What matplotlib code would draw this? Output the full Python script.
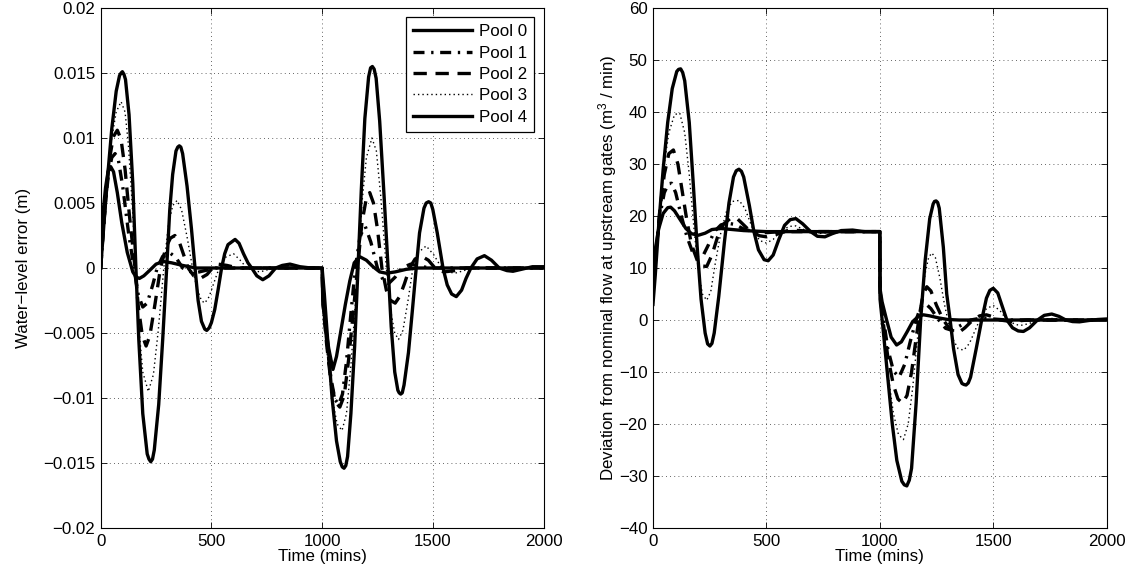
import matplotlib
matplotlib.use("Agg")
import matplotlib.pyplot as plt
from matplotlib.ticker import FuncFormatter

plt.rcParams['font.family'] = ['Liberation Sans', 'DejaVu Sans']
plt.rcParams['mathtext.default'] = 'regular'
plt.rcParams['font.size'] = 12.2

names = ["Pool 0", "Pool 1", "Pool 2", "Pool 3", "Pool 4"]

# ---- left panel: water-level error (m) ----
t_lev0 = [0, 5, 12, 22, 33, 45, 58, 75, 95, 120, 145, 160, 175, 195, 220, 250, 283, 320, 370, 430, 1000,
          1003, 1015, 1030, 1049, 1065, 1085, 1105, 1125, 1145, 1170, 1200, 1230, 1260, 1290, 1330, 1380, 1430, 2000]
lev0 = [0, 0.0025, 0.0045, 0.0062, 0.0074, 0.0078, 0.0074, 0.0058, 0.0035, 0.0012, -0.0003, -0.0007, -0.0008,
        -0.0006, -0.0002, 0.0003, 0.0005, 0.0004, 0.0002, 0.0, 0.0,
        -0.0025, -0.0045, -0.0062, -0.0078, -0.0068, -0.0048, -0.0028, -0.0010, 0.0004, 0.00087, 0.0006, 0.0001,
        -0.0003, -0.0004, -0.0003, -0.0001, 0.0, 0.0]

t_lev1 = [0, 8, 20, 35, 50, 65, 80, 100, 125, 150, 170, 190, 210, 235, 255, 280, 310, 340, 370, 420, 470, 520, 1000,
          1004, 1020, 1040, 1058, 1075, 1092, 1110, 1130, 1150, 1172, 1195, 1220, 1250, 1275, 1300, 1330, 1360, 1400,
          1450, 1500, 2000]
lev1 = [0, 0.002, 0.0048, 0.0072, 0.0085, 0.0088, 0.0083, 0.0062, 0.0028, 0.0, -0.0021, -0.0030, -0.0027, -0.0013,
        0.0, 0.0009, 0.0012, 0.0008, 0.0, -0.0004, -0.0002, 0.0, 0.0,
        -0.0025, -0.0055, -0.0085, -0.0101, -0.0105, -0.0097, -0.0072, -0.0035, 0.0, 0.0025, 0.0032, 0.0020, 0.0,
        -0.0009, -0.0012, -0.0007, 0.0, 0.0003, 0.0001, 0.0, 0.0]

t_lev2 = [0, 10, 25, 40, 57, 75, 92, 110, 130, 155, 170, 188, 205, 222, 245, 270, 295, 315, 335, 355, 375, 395, 420,
          450, 480, 505, 530, 570, 620, 1000,
          1004, 1020, 1040, 1060, 1080, 1100, 1120, 1140, 1160, 1180, 1198, 1215, 1232, 1250, 1270, 1290, 1310, 1330,
          1350, 1372, 1395, 1420, 1450, 1480, 1510, 1550, 1600, 1650, 2000]
lev2 = [0, 0.0025, 0.0058, 0.0084, 0.0101, 0.0106, 0.0099, 0.0076, 0.0040, 0.0, -0.0030, -0.0052, -0.0060, -0.0052,
        -0.0028, 0.0, 0.0016, 0.0023, 0.0025, 0.0020, 0.0010, 0.0, -0.0006, -0.0008, -0.0005, 0.0, 0.0003, 0.0002,
        0.0, 0.0,
        -0.0028, -0.0058, -0.0088, -0.0103, -0.0107, -0.0098, -0.0070, -0.0035, 0.0, 0.0035, 0.0052, 0.0058, 0.0050,
        0.0030, 0.0, -0.0017, -0.0025, -0.0027, -0.0022, -0.0012, 0.0, 0.0007, 0.0009, 0.0006, 0.0, -0.0003, -0.0002,
        0.0, 0.0]

t_lev3 = [0, 12, 30, 50, 70, 92, 110, 125, 142, 158, 172, 190, 215, 238, 260, 285, 305, 325, 345, 365, 390, 415, 435,
          455, 470, 490, 510, 535, 560, 600, 630, 660, 690, 720, 760, 800, 1000,
          1004, 1022, 1045, 1068, 1090, 1110, 1130, 1147, 1162, 1180, 1200, 1225, 1245, 1265, 1290, 1310, 1328, 1345,
          1365, 1388, 1410, 1435, 1470, 1505, 1540, 1570, 1600, 1640, 1680, 2000]
lev3 = [0, 0.0030, 0.0068, 0.0100, 0.0120, 0.0128, 0.0120, 0.0095, 0.0050, 0.0, -0.0045, -0.0080, -0.0095, -0.0082,
        -0.0048, 0.0, 0.0032, 0.0048, 0.0052, 0.0045, 0.0024, 0.0, -0.0016, -0.0025, -0.0027, -0.0022, -0.0012, 0.0,
        0.0008, 0.0011, 0.0006, 0.0, -0.0002, -0.0003, -0.0001, 0.0, 0.0,
        -0.0030, -0.0065, -0.0100, -0.0120, -0.0125, -0.0112, -0.0075, -0.0035, 0.0, 0.0050, 0.0085, 0.0100, 0.0090,
        0.0055, 0.0, -0.0033, -0.0050, -0.0055, -0.0048, -0.0025, 0.0, 0.0012, 0.0017, 0.0010, 0.0, -0.0003, -0.0004,
        -0.0002, 0.0, 0.0]

t_lev4 = [0, 15, 30, 50, 70, 85, 92, 98, 105, 112, 128, 145, 159, 172, 190, 210, 218, 226, 234, 242, 262, 280, 298,
          312, 325, 340, 348, 355, 362, 370, 390, 410, 426, 440, 455, 470, 479, 490, 500, 515, 530, 546, 560, 575, 607,
          625, 645, 665, 682, 705, 732, 760, 790, 820, 855, 900, 950, 1000,
          1010, 1025, 1045, 1065, 1082, 1091, 1099, 1107, 1115, 1130, 1147, 1162, 1177, 1193, 1210, 1219, 1227, 1235,
          1244, 1260, 1280, 1298, 1312, 1328, 1342, 1348, 1355, 1362, 1370, 1390, 1408, 1425, 1440, 1460, 1470, 1481,
          1491, 1500, 1520, 1546, 1565, 1585, 1606, 1630, 1650, 1672, 1700, 1733, 1765, 1800, 1835, 1862, 1900, 1950,
          2000]
lev4 = [0, 0.0035, 0.0068, 0.0107, 0.0136, 0.0148, 0.0150, 0.0151, 0.0149, 0.0145, 0.0118, 0.0065, 0.0, -0.0055,
        -0.0112, -0.0143, -0.0147, -0.0149, -0.0147, -0.0140, -0.0105, -0.0055, 0.0,
        0.0045, 0.0072, 0.0090, 0.0093, 0.0094, 0.0093, 0.0088, 0.0063, 0.0030, 0.0, -0.0025, -0.0041, -0.0047,
        -0.0048, -0.0046, -0.0042, -0.0032, -0.0017, 0.0, 0.0011, 0.0018, 0.0022,
        0.0019, 0.0011, 0.0004, 0.0, -0.0006, -0.0009, -0.0006, 0.0, 0.0002, 0.0003, 0.0001, 0.0, 0.0,
        -0.0020, -0.0055, -0.0100, -0.0133, -0.0149, -0.0153, -0.0154, -0.0152, -0.0145, -0.0112, -0.0060, 0.0,
        0.0060, 0.0115, 0.0147, 0.0154, 0.0155, 0.0153,
        0.0146, 0.0113, 0.0055, 0.0, -0.0045, -0.0080, -0.0094, -0.0096, -0.0097, -0.0096, -0.0090, -0.0065, -0.0032,
        0.0, 0.0027, 0.0046, 0.0050, 0.0051,
        0.0050, 0.0045, 0.0027, 0.0, -0.0013, -0.0020, -0.0022, -0.0017, -0.0008, 0.0, 0.0007, 0.00095, 0.0006, 0.0,
        -0.0002, -0.00025, -0.0001, 0.0001,
        0.0001]

# ---- right panel: flow deviation (m^3/min) ----
t_flow0 = [0, 10, 25, 45, 65, 78, 95, 120, 145, 170, 200, 230, 260, 300, 350, 400, 500, 1000,
           1001, 1010, 1030, 1050, 1074, 1095, 1120, 1145, 1170, 1192, 1220, 1260, 1300, 1350, 2000]
flow0 = [10.0, 13.5, 17.5, 20.5, 21.6, 21.7, 21.0, 19.3, 17.6, 16.6, 16.3, 16.7, 17.4, 17.6, 17.4, 17.2, 17.0, 17.0,
         6.0, 3.5, 0.0, -3.3, -4.8, -4.2, -2.3, -0.3, 0.7, 1.0, 0.8, 0.4, 0.1, 0.0, 0.0]

t_flow1 = [0, 12, 30, 50, 68, 82, 100, 125, 150, 175, 200, 220, 245, 270, 300, 330, 360, 400, 450, 500, 560, 1000,
           1001, 1015, 1035, 1060, 1085, 1110, 1135, 1160, 1180, 1200, 1225, 1260, 1290, 1320, 1350, 1400, 1450, 1500,
           1560, 2000]
flow1 = [8.0, 13.0, 20.0, 24.5, 26.2, 26.3, 24.5, 20.0, 16.0, 13.0, 12.0, 12.3, 14.5, 17.0, 18.3, 18.6, 18.4, 17.5,
         16.9, 16.8, 17.0, 17.0,
         5.5, 0.5, -5.5, -9.8, -11.0, -8.5, -4.0, 0.0, 2.5, 3.2, 2.2, 0.0, -1.6, -2.0, -1.2, 0.0, 0.4, 0.2, 0.0, 0.0]

t_flow2 = [0, 12, 30, 50, 70, 90, 110, 130, 150, 170, 195, 215, 237, 260, 285, 310, 340, 369, 395, 430, 470, 500, 540,
           600, 650, 700, 1000,
           1001, 1015, 1035, 1060, 1080, 1100, 1120, 1140, 1160, 1175, 1190, 1207, 1225, 1250, 1280, 1310, 1345, 1375,
           1410, 1440, 1470, 1500, 1530, 1580, 1650, 2000]
flow2 = [6.0, 12.0, 21.0, 28.0, 32.0, 32.7, 30.0, 24.5, 19.0, 14.5, 11.5, 10.4, 10.3, 12.5, 16.0, 18.4, 19.5, 19.6,
         18.5, 17.0, 16.2, 16.0, 16.4, 17.3, 17.2, 17.0, 17.0,
         5.0, -0.5, -7.0, -12.5, -15.2, -16.0, -14.5, -10.0, -3.5, 1.0, 4.8, 6.4, 5.6, 2.8, 0.0, -1.8, -2.5, -1.5,
         0.0, 0.8, 1.0, 0.6, 0.0, -0.3, 0.0, 0.0]

t_flow3 = [0, 12, 30, 50, 70, 95, 118, 140, 160, 180, 200, 218, 237, 255, 275, 300, 325, 350, 380, 405, 440, 470, 500,
           530, 560, 600, 630, 670, 720, 770, 850, 1000,
           1001, 1015, 1035, 1060, 1082, 1104, 1125, 1145, 1165, 1180, 1200, 1215, 1229, 1245, 1265, 1285, 1300, 1320,
           1345, 1370, 1395, 1420, 1440, 1470, 1500, 1530, 1560, 1600, 1630, 1670, 1700, 1760, 1850, 2000]
flow3 = [5.0, 11.0, 21.0, 30.0, 36.0, 39.5, 39.8, 36.0, 28.0, 18.0, 9.5, 5.0, 3.8, 5.5, 11.0, 17.0, 21.0, 22.8, 23.0,
         21.5, 17.5, 15.3, 14.8, 15.5, 17.0, 18.0, 18.1, 17.3, 16.6, 16.8, 17.1, 17.0,
         4.5, -2.0, -10.0, -18.0, -22.0, -23.0, -20.0, -13.0, -4.0, 2.5, 9.0, 12.0, 12.9, 12.0, 8.0, 3.0, 0.0, -3.5,
         -5.5, -5.8, -4.5, -2.0, 0.0, 2.2, 2.8, 1.8, 0.0, -0.9, -1.0, -0.5, 0.0, 0.3, 0.0, 0.0]

t_flow4 = [0, 10, 25, 45, 65, 85, 105, 113, 122, 131, 140, 160, 178, 195, 212, 230, 241, 251, 260, 270, 290, 315, 335,
           355, 367, 379, 390, 400, 425, 445, 465, 490, 508, 530, 555, 580, 605, 630, 660, 695, 725, 758, 790, 830,
           880, 930, 1000,
           1001, 1015, 1035, 1055, 1075, 1097, 1108, 1119, 1130, 1140, 1160, 1180, 1200, 1220, 1235, 1241, 1248, 1255,
           1262, 1280, 1295, 1310, 1325, 1345, 1362, 1371, 1380, 1390, 1400, 1425, 1449, 1470, 1485, 1500, 1520, 1540,
           1560, 1585, 1610, 1633, 1660, 1695, 1725, 1758, 1790, 1820, 1850, 1880, 1920, 1960, 2000]
flow4 = [3.0, 8.5, 18.0, 29.0, 38.0, 44.5, 47.8, 48.2, 48.3, 47.6, 46.0, 38.0, 26.0, 14.0, 4.0, -2.5, -4.6, -5.0,
         -4.5, -2.5, 4.5, 15.0, 22.5, 27.5, 28.7, 29.0, 28.6, 27.5, 22.0, 17.0, 13.5, 11.6, 11.4, 12.5, 15.5, 18.2,
         19.3, 19.5, 18.5, 17.0, 16.1, 16.0, 16.6, 17.2, 17.3, 17.0, 17.0,
         4.0, -2.0, -11.0, -20.0, -27.0, -31.0, -31.7, -31.9, -30.8, -28.5, -16.0, 0.0, 11.5, 19.5, 22.3, 22.8, 22.9,
         22.6, 21.5, 14.0, 5.0, 0.0, -5.5, -10.5, -12.2, -12.4, -12.5, -12.1, -11.0, -5.5, 0.0, 4.2, 5.7, 6.1, 5.2,
         2.6, 0.0, -1.5, -2.1, -2.2, -1.5, 0.0, 0.9, 1.15, 0.7, 0.0, -0.3, -0.35, -0.1, 0.1, 0.2]

lev_t = [t_lev0, t_lev1, t_lev2, t_lev3, t_lev4]
lev_y = [lev0, lev1, lev2, lev3, lev4]
flow_t = [t_flow0, t_flow1, t_flow2, t_flow3, t_flow4]
flow_y = [flow0, flow1, flow2, flow3, flow4]

styles = [
    dict(linestyle='-', linewidth=2.4),
    dict(linestyle=(0, (3.3, 2.0, 0.7, 2.0)), linewidth=2.4),
    dict(linestyle=(0, (4.0, 2.6)), linewidth=2.4),
    dict(linestyle=(0, (1.0, 2.2)), linewidth=1.0),
    dict(linestyle='-', linewidth=2.4),
]

def fmt(v, pos):
    s = "%g" % v
    return s.replace("-", "\u2212")

fig = plt.figure(figsize=(11.34, 5.85), dpi=100)
ax1 = fig.add_axes([0.0888, 0.0974, 0.3905, 0.8889])
ax2 = fig.add_axes([0.5758, 0.0974, 0.4001, 0.8889])

for i in range(5):
    ax1.plot(lev_t[i], lev_y[i], color='black', label=names[i], solid_joinstyle='round',
             dash_joinstyle='round', **styles[i])
    ax2.plot(flow_t[i], flow_y[i], color='black', label=names[i], solid_joinstyle='round',
             dash_joinstyle='round', **styles[i])

ax1.set_xlim(0, 2000)
ax1.set_ylim(-0.02, 0.02)
ax1.set_yticks([-0.02, -0.015, -0.01, -0.005, 0, 0.005, 0.01, 0.015, 0.02])
ax1.yaxis.set_major_formatter(FuncFormatter(fmt))
ax1.set_ylabel("Water\u2212level error (m)", labelpad=9)

ax2.set_xlim(0, 2000)
ax2.set_ylim(-40, 60)
ax2.set_yticks(range(-40, 61, 10))
ax2.yaxis.set_major_formatter(FuncFormatter(fmt))
ax2.set_ylabel("Deviation from nominal flow at upstream gates (m$^3$ / min)", labelpad=0)

for ax in (ax1, ax2):
    ax.set_xticks([0, 500, 1000, 1500, 2000])
    ax.set_xlabel("Time (mins)", labelpad=0)
    ax.grid(True, linestyle=(0, (1, 4)), color='black', linewidth=0.6, alpha=0.8)
    ax.tick_params(direction='in', top=True, right=True, length=4, width=0.6, pad=4)
    for sp in ax.spines.values():
        sp.set_linewidth(0.8)

leg = ax1.legend(loc='upper right', handlelength=3.5, borderaxespad=0.55, fancybox=False,
                 edgecolor='black', framealpha=1, labelspacing=0.38, handletextpad=0.4, borderpad=0.4)
leg.get_frame().set_linewidth(0.9)

fig.savefig("out.png", dpi=100)
